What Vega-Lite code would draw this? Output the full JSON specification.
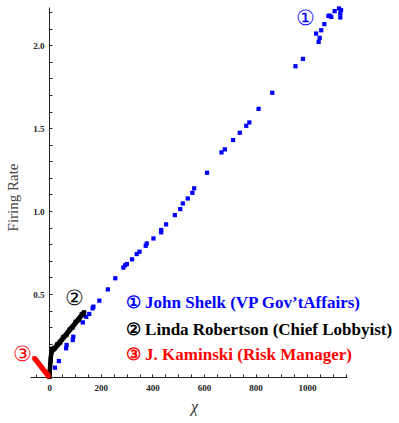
{
  "$schema": "https://vega.github.io/schema/vega-lite/v6.json",
  "width": 317,
  "height": 370,
  "autosize": "none",
  "padding": {"left": 30, "top": 7, "right": 52, "bottom": 46},
  "background": "white",
  "config": {"view": {"stroke": null}},
  "datasets": {
    "pts": [
      {"g":"Shelk","x":1124,"y":2.221},{"g":"Shelk","x":1132,"y":2.211},{"g":"Shelk","x":1129,"y":2.191},{"g":"Shelk","x":1129,"y":2.167},
      {"g":"Shelk","x":1107,"y":2.205},{"g":"Shelk","x":1094,"y":2.170},{"g":"Shelk","x":1083,"y":2.176},{"g":"Shelk","x":1088,"y":2.178},
      {"g":"Shelk","x":1067,"y":2.127},{"g":"Shelk","x":1055,"y":2.090},{"g":"Shelk","x":1035,"y":2.070},{"g":"Shelk","x":1049,"y":2.044},
      {"g":"Shelk","x":1045,"y":2.020},{"g":"Shelk","x":984,"y":1.917},{"g":"Shelk","x":955,"y":1.873},{"g":"Shelk","x":865,"y":1.713},
      {"g":"Shelk","x":812,"y":1.616},{"g":"Shelk","x":776,"y":1.534},{"g":"Shelk","x":764,"y":1.514},{"g":"Shelk","x":739,"y":1.472},
      {"g":"Shelk","x":713,"y":1.428},{"g":"Shelk","x":681,"y":1.372},{"g":"Shelk","x":668,"y":1.354},{"g":"Shelk","x":612,"y":1.231},
      {"g":"Shelk","x":562,"y":1.137},{"g":"Shelk","x":555,"y":1.110},{"g":"Shelk","x":537,"y":1.076},{"g":"Shelk","x":518,"y":1.046},
      {"g":"Shelk","x":508,"y":1.012},{"g":"Shelk","x":487,"y":0.976},{"g":"Shelk","x":453,"y":0.920},{"g":"Shelk","x":434,"y":0.886},
      {"g":"Shelk","x":434,"y":0.872},{"g":"Shelk","x":404,"y":0.835},{"g":"Shelk","x":378,"y":0.805},{"g":"Shelk","x":374,"y":0.791},
      {"g":"Shelk","x":350,"y":0.755},{"g":"Shelk","x":339,"y":0.741},{"g":"Shelk","x":321,"y":0.709},{"g":"Shelk","x":301,"y":0.681},
      {"g":"Shelk","x":294,"y":0.673},{"g":"Shelk","x":287,"y":0.659},{"g":"Shelk","x":256,"y":0.595},{"g":"Shelk","x":227,"y":0.528},
      {"g":"Shelk","x":194,"y":0.460},{"g":"Shelk","x":171,"y":0.424},{"g":"Shelk","x":168,"y":0.414},{"g":"Shelk","x":155,"y":0.380},
      {"g":"Shelk","x":143,"y":0.363},{"g":"Shelk","x":130,"y":0.329},{"g":"Shelk","x":93,"y":0.243},{"g":"Shelk","x":91,"y":0.223},
      {"g":"Shelk","x":67,"y":0.193},{"g":"Shelk","x":65,"y":0.173},{"g":"Shelk","x":37,"y":0.096},{"g":"Shelk","x":22,"y":0.056},
      {"g":"Robertson","x":0,"y":0.0},{"g":"Robertson","x":1,"y":0.012},{"g":"Robertson","x":1,"y":0.024},{"g":"Robertson","x":2,"y":0.036},
      {"g":"Robertson","x":2,"y":0.048},{"g":"Robertson","x":3,"y":0.06},{"g":"Robertson","x":3,"y":0.072},{"g":"Robertson","x":4,"y":0.085},
      {"g":"Robertson","x":5,"y":0.098},{"g":"Robertson","x":5,"y":0.11},{"g":"Robertson","x":6,"y":0.122},{"g":"Robertson","x":7,"y":0.134},
      {"g":"Robertson","x":8,"y":0.145},{"g":"Robertson","x":10,"y":0.155},{"g":"Robertson","x":12,"y":0.163},{"g":"Robertson","x":16,"y":0.165},
      {"g":"Robertson","x":20,"y":0.171},{"g":"Robertson","x":24,"y":0.178},{"g":"Robertson","x":28,"y":0.186},{"g":"Robertson","x":32,"y":0.193},
      {"g":"Robertson","x":36,"y":0.201},{"g":"Robertson","x":40,"y":0.209},{"g":"Robertson","x":44,"y":0.216},{"g":"Robertson","x":48,"y":0.224},
      {"g":"Robertson","x":52,"y":0.232},{"g":"Robertson","x":56,"y":0.239},{"g":"Robertson","x":60,"y":0.247},{"g":"Robertson","x":64,"y":0.254},
      {"g":"Robertson","x":68,"y":0.262},{"g":"Robertson","x":72,"y":0.270},{"g":"Robertson","x":76,"y":0.277},{"g":"Robertson","x":80,"y":0.285},
      {"g":"Robertson","x":84,"y":0.293},{"g":"Robertson","x":88,"y":0.300},{"g":"Robertson","x":92,"y":0.308},{"g":"Robertson","x":96,"y":0.315},
      {"g":"Robertson","x":100,"y":0.323},{"g":"Robertson","x":104,"y":0.331},{"g":"Robertson","x":108,"y":0.338},{"g":"Robertson","x":112,"y":0.346},
      {"g":"Robertson","x":116,"y":0.353},{"g":"Robertson","x":120,"y":0.361},{"g":"Robertson","x":124,"y":0.369},{"g":"Robertson","x":128,"y":0.376},
      {"g":"Robertson","x":132,"y":0.384},{"g":"Robertson","x":135,"y":0.390},
      {"g":"Robertson","x":18,"y":0.175},{"g":"Robertson","x":30,"y":0.196},{"g":"Robertson","x":42,"y":0.207},{"g":"Robertson","x":54,"y":0.241},
      {"g":"Robertson","x":66,"y":0.252},{"g":"Robertson","x":78,"y":0.285},{"g":"Robertson","x":90,"y":0.298},{"g":"Robertson","x":102,"y":0.333},
      {"g":"Robertson","x":114,"y":0.343},{"g":"Robertson","x":126,"y":0.378},{"g":"Robertson","x":130,"y":0.376},{"g":"Robertson","x":10,"y":0.17},
      {"g":"Kaminski","x":-58,"y":0.113},{"g":"Kaminski","x":-55,"y":0.108},{"g":"Kaminski","x":-52,"y":0.102},{"g":"Kaminski","x":-49,"y":0.097},
      {"g":"Kaminski","x":-46,"y":0.090},{"g":"Kaminski","x":-43,"y":0.084},{"g":"Kaminski","x":-40,"y":0.078},{"g":"Kaminski","x":-37,"y":0.072},
      {"g":"Kaminski","x":-34,"y":0.066},{"g":"Kaminski","x":-31,"y":0.060},{"g":"Kaminski","x":-28,"y":0.054},{"g":"Kaminski","x":-25,"y":0.048},
      {"g":"Kaminski","x":-22,"y":0.042},{"g":"Kaminski","x":-19,"y":0.036},{"g":"Kaminski","x":-16,"y":0.031},{"g":"Kaminski","x":-13,"y":0.026},
      {"g":"Kaminski","x":-10,"y":0.020},{"g":"Kaminski","x":-7,"y":0.014},{"g":"Kaminski","x":-5,"y":0.010},{"g":"Kaminski","x":-3,"y":0.005}
    ],
    "marks": [
      {"g":"Shelk","x":993,"y":2.16,"t":"①"},
      {"g":"Robertson","x":96,"y":0.47,"t":"②"},
      {"g":"Kaminski","x":-106,"y":0.133,"t":"③"}
    ],
    "legend": [
      {"g":"Shelk","x":297,"y":0.446,"t":"① John Shelk (VP Gov’tAffairs)"},
      {"g":"Robertson","x":297,"y":0.283,"t":"② Linda Robertson (Chief Lobbyist)"},
      {"g":"Kaminski","x":297,"y":0.133,"t":"③ J. Kaminski (Risk Manager)"}
    ]
  },
  "encoding": {
    "x": {
      "field": "x", "type": "quantitative",
      "scale": {"domain": [-75, 1155], "nice": false, "zero": false},
      "axis": {
        "title": "χ", "titleFont": "Liberation Serif", "titleFontSize": 16, "titleFontWeight": "normal", "titleFontStyle": "italic", "titleColor": "#333",
        "titleX": 164, "titleY": 29, "titleBaseline": "middle",
        "values": [-50,0,50,100,150,200,250,300,350,400,450,500,550,600,650,700,750,800,850,900,950,1000,1050,1100,1150],
        "format": "d",
        "labelExpr": "datum.value >= 0 && datum.value % 200 === 0 ? datum.label : ''",
        "labelFont": "Liberation Serif", "labelFontWeight": "bold", "labelFontSize": 9, "labelColor": "#222",
        "tickSize": -3, "labelPadding": 9, "tickColor": "#222", "domainColor": "#222", "grid": false, "labelFlush": false
      }
    },
    "y": {
      "field": "y", "type": "quantitative",
      "scale": {"domain": [0, 2.23], "nice": false, "zero": false},
      "axis": {
        "title": "Firing Rate", "titleFont": "Liberation Serif", "titleFontSize": 15, "titleFontWeight": "normal", "titleColor": "#444",
        "titleX": -37, "titleY": 190, "titleAlign": "center", "titleBaseline": "middle",
        "offset": -19,
        "values": [0.1,0.2,0.3,0.4,0.5,0.6,0.7,0.8,0.9,1.0,1.1,1.2,1.3,1.4,1.5,1.6,1.7,1.8,1.9,2.0,2.1,2.2],
        "labelExpr": "abs(datum.value*2 - round(datum.value*2)) < 0.001 ? format(datum.value, '.1f') : ''",
        "labelFont": "Liberation Serif", "labelFontWeight": "bold", "labelFontSize": 9, "labelColor": "#222",
        "tickSize": -3, "labelPadding": 8, "tickColor": "#222", "domainColor": "#222", "grid": false, "labelFlush": false
      }
    },
    "color": {
      "field": "g", "type": "nominal",
      "scale": {"domain": ["Shelk","Robertson","Kaminski"], "range": ["#0000ff","#000000","#ff0000"]},
      "legend": null
    }
  },
  "layer": [
    {
      "data": {"name": "pts"},
      "mark": {"type": "point", "shape": "square", "filled": true, "opacity": 1, "size": 18}
    },
    {
      "data": {"name": "marks"},
      "mark": {"type": "text", "font": "Liberation Serif", "fontSize": 21, "align": "center", "baseline": "middle", "clip": false},
      "encoding": {"text": {"field": "t"}}
    },
    {
      "data": {"name": "legend"},
      "mark": {"type": "text", "font": "Liberation Serif", "fontSize": 17, "fontWeight": "bold", "align": "left", "baseline": "middle", "clip": false},
      "encoding": {"text": {"field": "t"}}
    }
  ]
}
